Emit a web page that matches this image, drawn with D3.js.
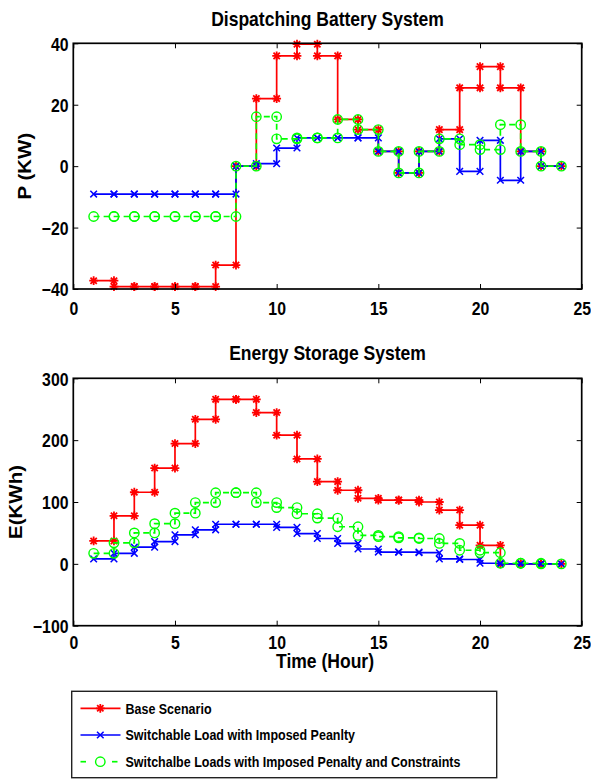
<!DOCTYPE html>
<html>
<head>
<meta charset="utf-8">
<script src="https://cdn.jsdelivr.net/npm/d3@7"></script>
<style>
  html, body { margin: 0; padding: 0; background: #fff; }
  svg { display: block; }
  text { font-family: "Liberation Sans", Arial, sans-serif; font-weight: bold; fill: #000; }
</style>
</head>
<body>
<div id="chart"></div>
<script>
// ---------------- DATA ----------------
const hours = [1,2,3,4,5,6,7,8,9,10,11,12,13,14,15,16,17,18,19,20,21,22,23];
const seriesNames = ["Base Scenario", "Switchable Load with Imposed Peanlty", "Switchalbe Loads with Imposed Penalty and Constraints"];

// Dispatching battery power P (KW), one value per hour step (hour -> hour+1)
const pBase   = [-37.3,-39.2,-39.2,-39.2,-39.2,-39.2,-32.2,0,22,35.9,39.7,35.9,15.2,11.9,4.8,-2.2,4.8,11.9,25.5,32.4,25.5,4.8,0];
const pSwitch = [-9.1,-9.1,-9.1,-9.1,-9.1,-9.1,-9.1,0,0.8,5.9,9.2,9.2,9.2,9.2,4.8,-2.2,4.8,8.9,-1.7,8.4,-4.6,4.8,0];
const pConstr = [-16.4,-16.4,-16.4,-16.4,-16.4,-16.4,-16.4,0,16.1,8.9,9.2,9.2,15.2,11.9,4.8,-2.2,4.8,8.9,7.0,5.4,13.5,4.8,0];

// Energy storage E (KWh)
const eBase   = [37,77.7,115.8,154.9,194.5,233.7,266,266,244.6,208,169.6,133,119,106,103,103,100,87,62.5,30,0,0,0];
const eSwitch = [8,17,27,36,47,55,64,64,64,59,49,41,33,24,19,19,18,8,7,1,0,0,0];
const eConstr = [17,34,50,65,82,99,115,115,99,91,81,74,60,46,44,42,41,33,22,18,1,1,0];

const xTicks = [0,5,10,15,20,25];
const pTicks = [-40,-20,0,20,40];
const eTicks = [-100,0,100,200,300];

// ---------------- LAYOUT ----------------
const W = 591, H = 779;
const SX = 0.855; // horizontal glyph squeeze of the reference
const colors = ["#ff0000", "#0000ff", "#00ff00"];

const svg = d3.select("#chart").append("svg").attr("width", W).attr("height", H);

const x = d3.scaleLinear().domain([0, 25]).range([73.3, 581.7]);

function txt(g, px, py, str, size, anchor, rotate) {
  return g.append("text")
    .attr("transform", `translate(${px},${py}) scale(${SX},1)` + (rotate ? ` rotate(${rotate})` : ""))
    .attr("text-anchor", anchor || "middle")
    .style("font-size", size + "px")
    .text(str);
}

function stairPoints(vals) {
  const pts = [];
  hours.forEach((h, i) => {
    pts.push([h, vals[i]]);
    pts.push([h + 1, vals[i]]);
  });
  return pts;
}

function markerPath(type, r) {
  if (type === 0) {
    const k = r * 0.72;
    return `M${-r},0L${r},0M0,${-r}L0,${r}M${-k},${-k}L${k},${k}M${-k},${k}L${k},${-k}`;
  }
  return `M${-r},${-r}L${r},${r}M${-r},${r}L${r},${-r}`;
}

function drawMarker(g, type, cx, cy, color) {
  if (type === 2) {
    g.append("circle").attr("cx", cx).attr("cy", cy).attr("r", 4.7)
      .attr("fill", "none").attr("stroke", color).attr("stroke-width", 1.4);
  } else {
    g.append("path").attr("transform", `translate(${cx},${cy})`)
      .attr("d", markerPath(type, type === 0 ? 4.4 : 3.3))
      .attr("fill", "none").attr("stroke", color).attr("stroke-width", type === 0 ? 1.8 : 1.5);
  }
}

function panel(opts) {
  const { y, yTicks, title, titleY, ylabel, ylabelX, data, xlabelY } = opts;
  const g = svg.append("g");
  const [yBot, yTop] = y.range();
  const [xL, xR] = x.range();

  // series
  data.forEach((vals, si) => {
    const pts = stairPoints(vals);
    const line = d3.line().x(d => x(d[0])).y(d => y(d[1]));
    g.append("path").attr("d", line(pts))
      .attr("fill", "none").attr("stroke", colors[si]).attr("stroke-width", 1.7)
      .attr("stroke-dasharray", si === 2 ? "6,4" : null);
    const mg = g.append("g");
    pts.forEach(p => drawMarker(mg, si, x(p[0]), y(p[1]), colors[si]));
  });

  // axes (ticks inside, on all four sides)
  const ax = g.append("g");
  const bottomAxis = ax.append("g").attr("transform", `translate(0,${yBot})`)
    .call(d3.axisBottom(x).tickValues(xTicks).tickSizeInner(-5).tickSizeOuter(0).tickFormat(d3.format("d")));
  ax.append("g").attr("transform", `translate(0,${yTop})`)
    .call(d3.axisTop(x).tickValues(xTicks).tickSizeInner(-5).tickSizeOuter(0).tickFormat(""));
  const leftAxis = ax.append("g").attr("transform", `translate(${xL},0)`)
    .call(d3.axisLeft(y).tickValues(yTicks).tickSizeInner(-5).tickSizeOuter(0).tickFormat(d3.format("d")));
  ax.append("g").attr("transform", `translate(${xR},0)`)
    .call(d3.axisRight(y).tickValues(yTicks).tickSizeInner(-5).tickSizeOuter(0).tickFormat(""));

  ax.selectAll(".domain").remove();
  ax.selectAll(".tick line").attr("stroke", "#000").attr("stroke-width", 1);
  ax.selectAll(".tick text").attr("fill", "#000").style("font-family", "'Liberation Sans', Arial, sans-serif")
    .style("font-weight", "bold").style("font-size", "18.5px");

  bottomAxis.selectAll(".tick text")
    .attr("y", null).attr("dy", null)
    .attr("transform", `translate(0,${xlabelY - yBot}) scale(${SX},1)`);
  leftAxis.selectAll(".tick text")
    .attr("x", null).attr("dy", null)
    .attr("transform", `translate(-4.8,6.8) scale(${SX},1)`);

  // box
  g.append("rect").attr("x", xL).attr("y", yTop).attr("width", xR - xL).attr("height", yBot - yTop)
    .attr("fill", "none").attr("stroke", "#000").attr("stroke-width", 1.7);

  txt(g, (xL + xR) / 2, titleY, title, 20.5, "middle");
  txt(g, ylabelX, (yTop + yBot) / 2, ylabel, 20.5, "middle", -90);
  return g;
}

const yP = d3.scaleLinear().domain([-40, 40]).range([289, 43.3]);
const yE = d3.scaleLinear().domain([-100, 300]).range([625.7, 378.3]);

panel({ y: yP, yTicks: pTicks, title: "Dispatching Battery System", titleY: 26,
        ylabel: "P (KW)", ylabelX: 31, data: [pBase, pSwitch, pConstr], xlabelY: 314.5 });
panel({ y: yE, yTicks: eTicks, title: "Energy Storage System", titleY: 360,
        ylabel: "E(KWh)", ylabelX: 22, data: [eBase, eSwitch, eConstr], xlabelY: 648.5 });

txt(svg, 325, 667.5, "Time (Hour)", 20.5, "middle");

// ---------------- LEGEND ----------------
const lg = svg.append("g");
lg.append("rect").attr("x", 71.7).attr("y", 691.3).attr("width", 425).attr("height", 86.4)
  .attr("fill", "#fff").attr("stroke", "#222").attr("stroke-width", 1.4);
const rowY = [708.3, 735, 761.7];
seriesNames.forEach((name, i) => {
  const yy = rowY[i];
  if (i === 2) {
    lg.append("line").attr("x1", 80.5).attr("x2", 86).attr("y1", yy).attr("y2", yy)
      .attr("stroke", colors[i]).attr("stroke-width", 1.7);
    lg.append("line").attr("x1", 112).attr("x2", 117.5).attr("y1", yy).attr("y2", yy)
      .attr("stroke", colors[i]).attr("stroke-width", 1.7);
  } else {
    lg.append("line").attr("x1", 80.5).attr("x2", 120.5).attr("y1", yy).attr("y2", yy)
      .attr("stroke", colors[i]).attr("stroke-width", 1.7);
  }
  drawMarker(lg, i, 100.3, yy, colors[i]);
  txt(lg, 125.5, yy + 5.3, name, 14.6, "start");
});
</script>
</body>
</html>
